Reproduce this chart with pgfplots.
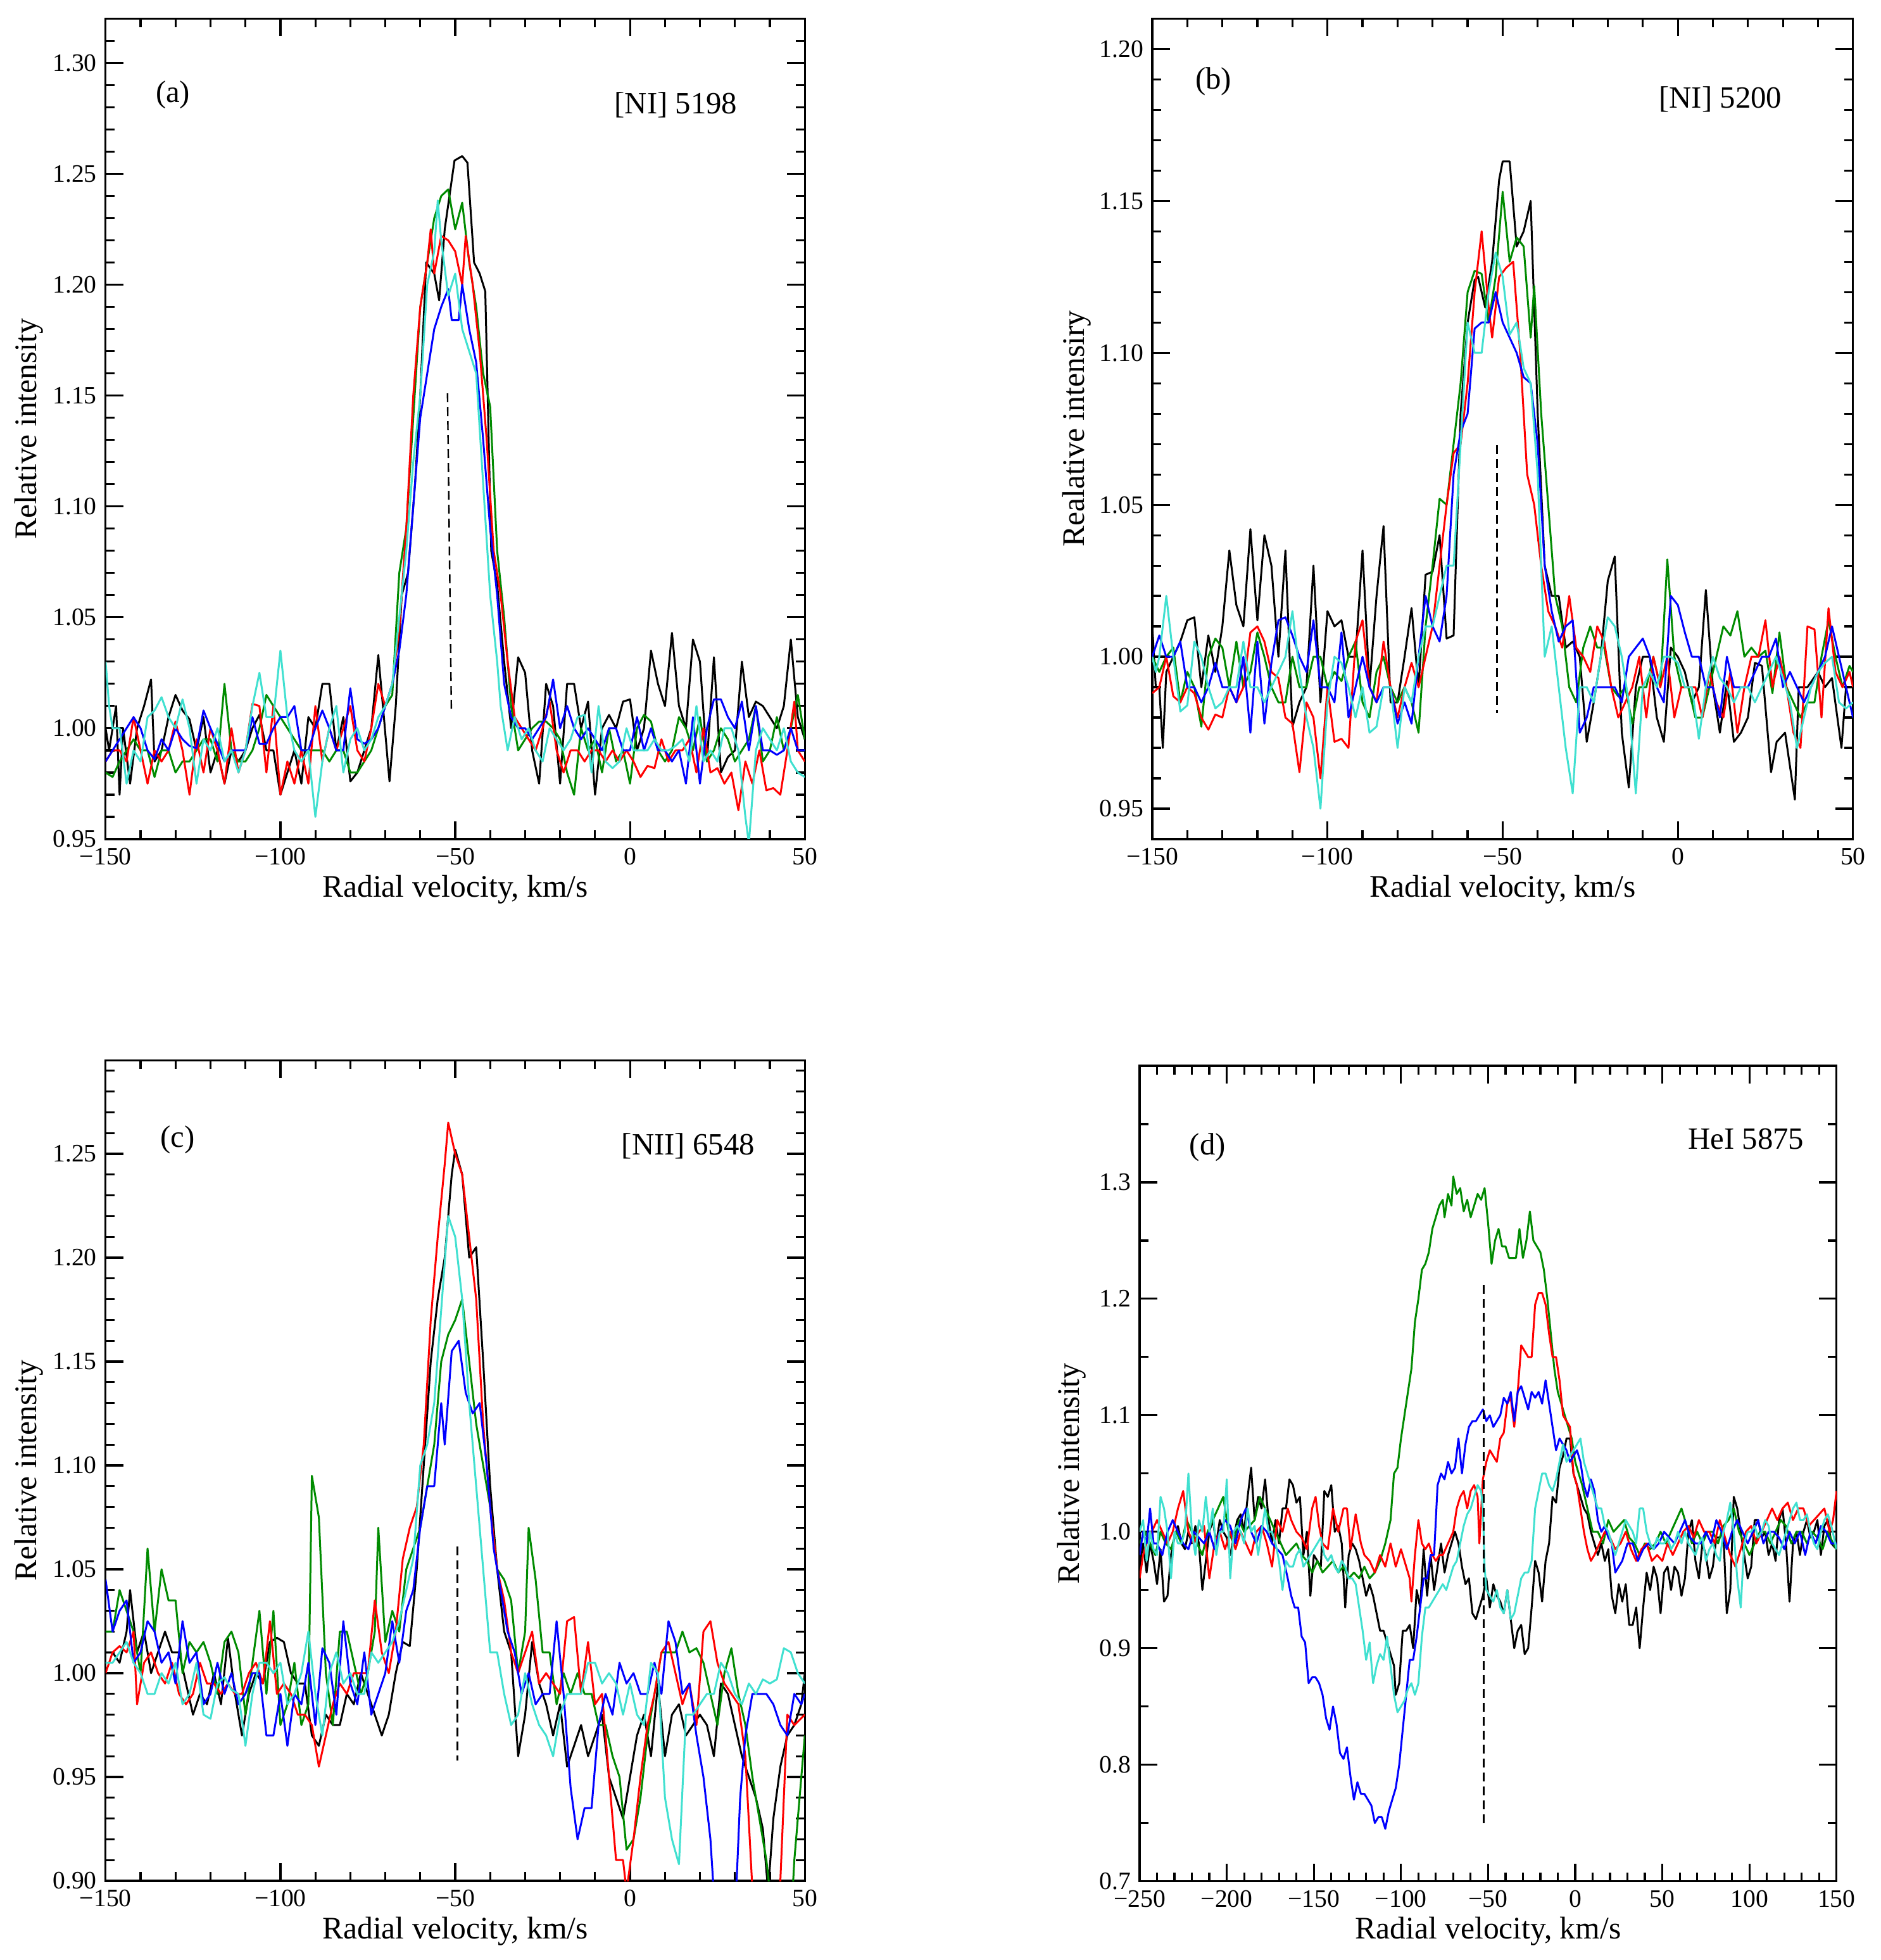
\documentclass[border=0pt]{standalone}
\usepackage{fontspec}
\setmainfont{Liberation Serif}
\usepackage{pgfplots}
\pgfplotsset{compat=1.18}
\definecolor{ggreen}{RGB}{0,139,0}
\definecolor{turq}{RGB}{64,224,208}
\tikzset{
 ann/.style={font=\fontsize{12.2}{14}\selectfont, inner sep=0pt},
 dsh/.style={black, line width=0.6pt, dash pattern=on 3.5pt off 2pt},
}
\pgfplotsset{
 panel/.style={
  scale only axis,
  axis line style={line width=0.8pt},
  tick align=inside, xtick pos=both, ytick pos=both,
  major tick length=7pt, minor tick length=3.5pt,
  every tick/.style={black, line width=0.8pt},
  tick label style={font=\fontsize{9.9}{12}\selectfont},
  label style={font=\fontsize{12.4}{14}\selectfont},
  xlabel={Radial velocity, km/s},
  xlabel style={at={(axis description cs:0.5,-0.0704)}, anchor=base, inner sep=0pt},
  ylabel style={anchor=south, inner sep=0pt},
  every axis plot/.append style={line width=0.75pt, line join=round},
  clip=true,
 },
 vxa/.style={xmin=-150, xmax=50, xtick={-150,-100,-50,0,50},
  xticklabels={−150,−100,−50,0,50}, minor xtick={-150,-140,...,50}},
}
\begin{document}
\begin{tikzpicture}
\useasboundingbox (0,0) rectangle (742.5pt,773.75pt);
% ---------------- (a)
\begin{axis}[panel, vxa, at={(41.7pt,442.5pt)}, anchor=south west, width=276.1pt, height=323.9pt,
 ymin=0.95, ymax=1.32, ytick={0.95,1,1.05,1.1,1.15,1.2,1.25,1.3},
 yticklabels={0.95,1.00,1.05,1.10,1.15,1.20,1.25,1.30}, minor ytick={0.95,0.96,...,1.325},
 ylabel={Relative intensity}, ylabel style={at={(axis description cs:-0.0887,0.5)}}]
\addplot[black] coordinates {(-150,1.00) (-149,0.99) (-147,1.01) (-146,0.97) (-145,1.00) (-143,0.975) (-141,1.00) (-139,1.01) (-137,1.022) (-136,0.985) (-134,0.99) (-132,1.005) (-130,1.015) (-128,1.008) (-126,1.004) (-124,0.99) (-122,1.005) (-120,0.98) (-118,0.99) (-116,0.975) (-114,0.99) (-112,0.985) (-110,0.99) (-108,1.00) (-106,1.006) (-104,0.99) (-102,0.99) (-100,0.97) (-98,0.98) (-96,0.99) (-94,0.975) (-92,1.005) (-90,1.00) (-88,1.02) (-86,1.02) (-84,0.99) (-82,1.005) (-80,0.976) (-78,0.98) (-76,0.99) (-74,1.00) (-72,1.033) (-70.4,1.005) (-68.8,0.976) (-67,1.01) (-65.3,1.06) (-63.5,1.07) (-61.5,1.11) (-60,1.15) (-58.3,1.21) (-56,1.205) (-54.6,1.193) (-53,1.225) (-50.2,1.256) (-48,1.258) (-46.5,1.255) (-44.6,1.21) (-43,1.205) (-41.4,1.197) (-39.7,1.08) (-38,1.065) (-36,1.03) (-34,1.00) (-32,1.032) (-30,1.025) (-28,0.99) (-26,0.975) (-24,1.02) (-22,1.01) (-20,0.975) (-18,1.02) (-16,1.02) (-14,1.00) (-12,1.012) (-10,0.97) (-8,1.00) (-6,1.006) (-4,1.00) (-2,1.012) (0,1.013) (2,0.99) (4,1.00) (6,1.035) (8,1.02) (10,1.01) (12,1.043) (14,1.01) (16,1.00) (18,1.04) (20,1.03) (22,0.985) (24,1.032) (26,0.98) (28,0.987) (30,0.99) (32,1.03) (34,1.005) (36,1.012) (38,1.01) (40,1.005) (42,1.00) (44,1.01) (46,1.04) (48,1.005) (50,0.995)};
\addplot[ggreen] coordinates {(-150,0.98) (-148,0.978) (-146,0.985) (-144,0.99) (-142,0.995) (-140,0.99) (-138,0.99) (-136,0.978) (-134,0.99) (-132,0.99) (-130,0.98) (-128,0.985) (-126,0.985) (-124,0.99) (-122,0.995) (-120,0.995) (-118,0.985) (-116,1.02) (-114,0.99) (-112,0.985) (-110,0.985) (-108,0.99) (-106,1.00) (-104,1.015) (-102,1.01) (-100,1.005) (-98,1.00) (-96,0.995) (-94,0.99) (-92,0.99) (-90,0.99) (-88,0.99) (-86,0.985) (-84,0.99) (-82,0.99) (-80,0.98) (-78,0.98) (-76,0.985) (-74,0.99) (-72,1.00) (-70,1.01) (-68,1.015) (-66,1.07) (-64,1.09) (-62,1.14) (-60,1.19) (-58,1.21) (-56,1.23) (-54,1.24) (-52,1.243) (-50,1.225) (-48,1.237) (-46,1.21) (-44,1.19) (-42,1.16) (-40,1.145) (-38,1.08) (-36,1.05) (-34,1.01) (-32,0.99) (-30,0.995) (-28,1.00) (-26,1.003) (-24,1.003) (-22,1.00) (-20,0.995) (-18,0.98) (-16,0.97) (-14,1.00) (-12,0.99) (-10,0.995) (-8,0.98) (-6,1.00) (-4,0.985) (-2,0.99) (0,0.975) (2,1.00) (4,1.006) (6,1.003) (8,0.99) (10,0.985) (12,0.99) (14,1.005) (16,1.00) (18,0.99) (20,1.005) (22,0.985) (24,0.99) (26,1.00) (28,0.995) (30,0.985) (32,0.99) (34,0.995) (36,1.01) (38,0.985) (40,0.99) (42,1.005) (44,0.99) (46,1.00) (48,1.015) (50,0.995)};
\addplot[red] coordinates {(-150,0.985) (-148,0.99) (-146,0.99) (-144,0.985) (-142,1.005) (-140,0.99) (-138,0.975) (-136,0.99) (-134,0.985) (-132,0.99) (-130,1.003) (-128,0.99) (-126,0.97) (-124,0.995) (-122,0.98) (-120,1.00) (-118,0.99) (-116,0.975) (-114,1.00) (-112,0.98) (-110,0.99) (-108,1.011) (-106,1.01) (-104,0.98) (-102,1.01) (-100,0.97) (-98,0.985) (-96,0.975) (-94,0.99) (-92,0.975) (-90,1.01) (-88,0.985) (-86,1.00) (-84,0.99) (-82,1.00) (-80,1.01) (-78,0.99) (-76,0.985) (-74,1.00) (-72,1.02) (-70,1.01) (-68,1.02) (-66,1.045) (-64,1.09) (-62,1.15) (-60,1.19) (-58,1.21) (-57,1.225) (-56,1.205) (-54,1.222) (-52,1.22) (-50,1.215) (-48,1.20) (-47,1.222) (-45,1.20) (-43,1.17) (-41,1.13) (-39,1.08) (-37,1.06) (-35,1.03) (-33,1.005) (-31,1.00) (-29,0.995) (-27,0.99) (-25,1.00) (-23,1.012) (-21,0.99) (-19,0.98) (-17,0.99) (-15,0.99) (-13,0.985) (-11,0.99) (-9,0.99) (-7,0.985) (-5,0.99) (-3,0.985) (-1,0.99) (1,0.985) (3,0.978) (5,0.983) (7,0.982) (9,0.995) (11,0.985) (13,0.99) (15,0.99) (17,0.995) (19,0.98) (21,1.00) (23,0.98) (25,0.982) (27,0.975) (29,0.98) (31,0.963) (33,0.985) (35,0.975) (37,0.99) (39,0.972) (41,0.973) (43,0.97) (45,0.99) (47,1.012) (48,0.99) (50,0.985)};
\addplot[blue] coordinates {(-150,0.985) (-148,0.99) (-146,0.995) (-144,1.00) (-142,1.005) (-140,1.00) (-138,0.99) (-136,0.986) (-134,0.995) (-132,0.99) (-130,1.00) (-128,0.995) (-126,0.992) (-124,0.991) (-122,1.008) (-120,1.00) (-118,0.993) (-116,0.985) (-114,0.99) (-112,0.99) (-110,0.99) (-108,1.005) (-106,0.993) (-104,0.993) (-102,1.00) (-100,1.005) (-98,1.005) (-96,1.01) (-94,0.99) (-92,0.99) (-90,1.00) (-88,1.008) (-86,1.00) (-84,0.99) (-82,0.99) (-80,1.018) (-78,0.995) (-76,0.993) (-74,0.995) (-72,1.00) (-70,1.01) (-68,1.02) (-66,1.035) (-64,1.06) (-62,1.10) (-60,1.14) (-58,1.16) (-56,1.18) (-54,1.19) (-52,1.198) (-51,1.184) (-49,1.184) (-48,1.20) (-46,1.18) (-44,1.165) (-42,1.13) (-40,1.09) (-38,1.06) (-36,1.02) (-34,1.005) (-32,1.00) (-30,1.00) (-28,0.995) (-26,1.00) (-24,1.005) (-22,1.022) (-20,1.00) (-18,1.01) (-16,1.00) (-14,0.995) (-12,1.00) (-10,0.995) (-8,0.99) (-6,1.00) (-4,1.00) (-2,0.99) (0,0.99) (2,1.005) (4,0.99) (6,1.00) (8,0.99) (10,0.99) (12,0.985) (14,0.99) (16,0.975) (18,1.005) (20,0.975) (22,1.00) (24,1.013) (26,1.013) (28,1.005) (30,1.00) (32,1.012) (34,0.99) (36,1.01) (38,0.99) (40,0.99) (42,0.988) (44,0.99) (46,1.00) (48,0.99) (50,0.99)};
\addplot[turq] coordinates {(-150,1.03) (-149,1.01) (-148,1.00) (-146,1.00) (-144,0.975) (-142,0.99) (-140,0.985) (-138,1.005) (-136,1.008) (-134,1.014) (-132,1.005) (-130,1.00) (-128,1.013) (-126,1.00) (-124,0.975) (-122,0.995) (-120,0.99) (-118,1.00) (-116,0.985) (-114,0.99) (-112,0.98) (-110,0.99) (-108,1.01) (-106,1.025) (-104,1.005) (-102,1.005) (-100,1.035) (-98,1.005) (-96,0.99) (-94,0.985) (-92,0.99) (-90,0.96) (-88,0.985) (-86,1.00) (-84,1.01) (-82,0.98) (-80,0.995) (-78,1.00) (-76,0.99) (-74,0.995) (-72,1.005) (-70,1.01) (-68,1.02) (-66,1.05) (-64,1.08) (-62,1.12) (-60,1.15) (-58,1.20) (-56,1.215) (-55,1.238) (-54,1.22) (-52,1.195) (-50,1.205) (-48,1.18) (-46,1.17) (-44,1.16) (-42,1.11) (-40,1.06) (-38,1.03) (-37,1.01) (-35,0.99) (-33,1.005) (-31,0.995) (-29,1.00) (-27,0.99) (-25,0.985) (-23,1.00) (-21,0.995) (-19,0.99) (-17,0.995) (-15,1.005) (-13,1.006) (-11,0.98) (-9,1.01) (-7,0.985) (-5,0.982) (-3,0.985) (-1,1.00) (1,0.99) (3,0.99) (5,0.99) (7,0.995) (9,0.99) (11,0.99) (13,0.992) (15,0.995) (17,0.985) (19,1.01) (21,0.985) (23,0.99) (25,0.985) (27,1.00) (29,1.00) (31,0.99) (33,0.96) (34,0.948) (36,0.99) (38,1.00) (40,0.995) (42,0.99) (44,1.00) (46,0.985) (48,0.98) (50,0.978)};
\addplot[dsh] coordinates {(-52.2,1.151) (-51.1,1.008)};
\node[ann, anchor=base west] at (axis description cs:0.071,0.898) {(a)};
\node[ann, anchor=base east] at (axis description cs:0.904,0.8845) {[NI] 5198};
\end{axis}
% ---------------- (b)
\begin{axis}[panel, vxa, at={(455pt,442.5pt)}, anchor=south west, width=276.7pt, height=323.9pt,
 ymin=0.94, ymax=1.21, ytick={0.95,1,1.05,1.1,1.15,1.2},
 yticklabels={0.95,1.00,1.05,1.10,1.15,1.20}, minor ytick={0.94,0.95,...,1.215},
 ylabel={Realative intensiry}, ylabel style={at={(axis description cs:-0.0867,0.5)}}]
\addplot[black] coordinates {(-150,1.01) (-149,0.99) (-148,0.99) (-147,0.97) (-146,0.995) (-144,1.00) (-142,1.005) (-140,1.012) (-138,1.013) (-136,0.99) (-134,1.007) (-132,0.995) (-130,1.01) (-128,1.035) (-126,1.017) (-124,1.01) (-122,1.042) (-120,1.012) (-118,1.04) (-116,1.03) (-114,1.00) (-112,1.035) (-110,0.977) (-108,0.985) (-106,0.99) (-104,1.03) (-102,0.985) (-100,1.015) (-98,1.01) (-96,1.012) (-94,1.00) (-92,1.00) (-90,1.035) (-88,0.99) (-86,1.02) (-84,1.043) (-82,0.985) (-80,0.985) (-78,1.00) (-76,1.016) (-74,0.99) (-72,1.027) (-70,1.028) (-68,1.04) (-66,1.006) (-64,1.007) (-62,1.08) (-60,1.11) (-58,1.124) (-57,1.125) (-55,1.115) (-53,1.13) (-51,1.157) (-50,1.163) (-48,1.163) (-46,1.135) (-44,1.14) (-42,1.15) (-40,1.08) (-38,1.03) (-36,1.02) (-34,1.02) (-32,1.003) (-30,1.005) (-28,1.00) (-26,0.972) (-24,0.985) (-22,1.00) (-20,1.025) (-18,1.033) (-16,0.975) (-14,0.957) (-12,0.99) (-10,1.00) (-8,1.00) (-6,0.98) (-4,0.972) (-2,1.003) (0,1.00) (2,0.995) (4,0.985) (6,0.99) (8,1.022) (10,0.99) (12,0.975) (14,0.992) (16,0.972) (18,0.975) (20,0.98) (22,0.998) (24,0.997) (26.6,0.962) (28.2,0.972) (30.6,0.975) (33.4,0.953) (34.5,0.99) (37,0.99) (40,0.995) (42,0.99) (44,0.993) (46.7,0.97) (48,0.99) (50,0.99)};
\addplot[ggreen] coordinates {(-150,1.00) (-148,0.995) (-146,1.00) (-144,1.003) (-142,0.985) (-140,0.995) (-138,0.99) (-136,0.977) (-134,1.00) (-132,1.006) (-130,1.003) (-128,0.99) (-126,1.005) (-124,0.99) (-122,0.995) (-120,1.008) (-118,1.00) (-116,0.99) (-114,0.985) (-112,0.985) (-110,1.00) (-108,0.99) (-106,0.99) (-104,1.00) (-102,1.00) (-100,0.99) (-98,0.995) (-96,0.992) (-94,1.00) (-92,1.005) (-90,0.985) (-88,0.98) (-86,0.995) (-84,1.00) (-82,0.99) (-80,0.985) (-78,0.99) (-76,0.985) (-74,0.975) (-72,1.01) (-70,1.03) (-68,1.052) (-66,1.05) (-64,1.07) (-62,1.09) (-60,1.12) (-58,1.127) (-56,1.126) (-54,1.11) (-52,1.125) (-50,1.153) (-48,1.13) (-46,1.138) (-44,1.135) (-42,1.105) (-41,1.122) (-39,1.08) (-37,1.05) (-35,1.02) (-33,1.01) (-31,0.99) (-29,0.985) (-27,1.003) (-25,1.01) (-23,1.003) (-21,1.003) (-19,0.99) (-17,0.987) (-15,0.99) (-13,0.978) (-11,0.99) (-9,0.99) (-7,1.00) (-5,0.99) (-3,1.032) (-1,1.00) (1,0.99) (3,0.99) (5,0.98) (7,0.98) (9,0.99) (11,1.00) (13,1.01) (15,1.007) (17,1.015) (19,1.00) (21,1.003) (23,1.00) (25,1.002) (27,0.988) (29,1.008) (31,0.99) (33,0.985) (35,0.98) (37,0.985) (39,0.985) (41,1.00) (43,1.012) (45,1.00) (47,0.99) (49,0.997) (50,0.995)};
\addplot[red] coordinates {(-150,0.988) (-148,0.99) (-146,1.00) (-144,0.987) (-142,0.985) (-140,0.99) (-138,0.988) (-136,0.98) (-134,0.976) (-132,0.981) (-130,0.98) (-128,0.99) (-126,0.985) (-124,0.99) (-122,1.008) (-120,1.01) (-118,1.005) (-116,0.995) (-114,0.993) (-112,0.98) (-110,0.978) (-108,0.962) (-106,0.985) (-104,0.98) (-102,0.96) (-100,0.99) (-98,0.972) (-96,0.973) (-94,0.97) (-92,1.005) (-90,1.012) (-88,0.99) (-86,0.985) (-84,1.005) (-82,0.99) (-80,0.98) (-78,0.99) (-76,0.998) (-74,0.99) (-72,1.00) (-70,1.01) (-68,1.03) (-66,1.05) (-64,1.067) (-62,1.07) (-60,1.09) (-58,1.12) (-56,1.14) (-54,1.115) (-53,1.105) (-51,1.125) (-49,1.128) (-47,1.13) (-45,1.10) (-43,1.06) (-41,1.05) (-39,1.03) (-37,1.015) (-35,1.01) (-33,1.003) (-31,1.02) (-29,1.003) (-27,1.00) (-25,0.995) (-23,1.01) (-21,1.005) (-19,0.99) (-17,0.98) (-15,0.985) (-13,0.99) (-11,1.00) (-9,0.98) (-7,1.00) (-5,0.99) (-3,1.00) (-1,0.98) (1,0.99) (3,0.99) (5,0.99) (7,0.98) (9,0.995) (11,0.985) (13,0.98) (15,0.995) (17,0.975) (19,0.99) (21,1.00) (23,1.00) (25,1.012) (27,0.99) (29,1.00) (31,0.99) (33,0.975) (35,0.97) (37,1.01) (39,1.009) (41,0.98) (43,1.016) (45,0.995) (47,0.99) (49,0.995) (50,0.99)};
\addplot[blue] coordinates {(-150,1.00) (-148,1.007) (-146,1.00) (-144,1.00) (-142,1.005) (-140,0.99) (-138,0.99) (-136,0.985) (-134,0.99) (-132,0.998) (-130,0.99) (-128,0.99) (-126,0.985) (-124,1.00) (-122,0.975) (-120,1.005) (-118,0.978) (-116,0.998) (-114,1.012) (-112,1.013) (-110,1.007) (-108,1.00) (-106,0.995) (-104,1.012) (-102,0.99) (-100,0.99) (-98,0.985) (-96,1.008) (-94,0.98) (-92,0.99) (-90,1.00) (-88,0.99) (-86,0.985) (-84,0.99) (-82,0.99) (-80,0.978) (-78,0.985) (-76,0.978) (-74,1.00) (-72,1.02) (-70,1.01) (-68,1.005) (-66,1.02) (-64,1.06) (-62,1.074) (-60,1.08) (-58,1.108) (-56,1.11) (-54,1.11) (-52,1.12) (-50,1.11) (-48,1.105) (-46,1.10) (-44,1.092) (-42,1.09) (-40,1.07) (-38,1.03) (-36,1.015) (-34,1.005) (-32,1.01) (-30,1.012) (-28,0.975) (-26,0.98) (-24,0.99) (-22,0.99) (-20,0.99) (-18,0.99) (-16,0.985) (-14,1.00) (-12,1.003) (-10,1.006) (-8,1.00) (-6,0.99) (-4,0.985) (-2,1.02) (0,1.017) (2,1.008) (4,1.00) (6,1.00) (8,0.99) (10,0.99) (12,0.98) (14,1.00) (16,0.99) (18,0.99) (20,0.99) (22,0.995) (24,1.00) (26,1.00) (28,1.006) (30,0.99) (32,0.995) (34,0.99) (36,0.985) (38,0.99) (40,0.995) (42,1.00) (44,1.01) (46,1.00) (48,0.99) (50,0.98)};
\addplot[turq] coordinates {(-150,1.00) (-149,0.995) (-148,1.00) (-146,1.02) (-144,1.00) (-142,0.982) (-140,0.984) (-138,1.005) (-136,1.00) (-134,0.99) (-132,0.983) (-130,0.985) (-128,0.99) (-126,0.99) (-124,1.005) (-122,0.99) (-120,0.99) (-118,0.985) (-116,0.99) (-114,0.995) (-112,1.00) (-110,1.015) (-108,0.995) (-106,0.98) (-104,0.97) (-102,0.95) (-100,0.985) (-98,1.00) (-96,0.998) (-94,0.99) (-92,0.98) (-90,0.99) (-88,0.975) (-86,0.977) (-84,0.99) (-82,0.99) (-80,0.97) (-78,0.99) (-76,0.985) (-74,1.00) (-72,1.01) (-70,1.01) (-68,1.02) (-66,1.03) (-64,1.03) (-62,1.07) (-60,1.11) (-58,1.10) (-56,1.10) (-54,1.12) (-52,1.133) (-50,1.125) (-48,1.106) (-46,1.11) (-44,1.095) (-42,1.09) (-40,1.06) (-38,1.00) (-36,1.01) (-34,0.99) (-32,0.97) (-30,0.955) (-28,0.99) (-26,0.99) (-24,0.985) (-22,1.00) (-20,1.013) (-18,1.01) (-16,1.00) (-14,0.985) (-12,0.955) (-10,0.99) (-8,0.995) (-6,0.99) (-4,1.00) (-2,1.00) (0,0.998) (2,0.99) (4,0.99) (6,0.973) (8,0.99) (10,1.00) (12,0.993) (14,0.99) (16,0.985) (18,0.99) (20,0.99) (22,0.985) (24,0.99) (26,0.995) (28,1.00) (30,0.993) (32,0.985) (34,0.97) (36,0.98) (38,0.99) (40,0.995) (42,0.998) (44,1.00) (46,0.985) (48,0.983) (50,0.985)};
\addplot[dsh] coordinates {(-51.6,1.0696) (-51.6,0.9815)};
\node[ann, anchor=base west] at (axis description cs:0.061,0.914) {(b)};
\node[ann, anchor=base east] at (axis description cs:0.899,0.891) {[NI] 5200};
\end{axis}
% ---------------- (c)
\begin{axis}[panel, vxa, at={(41.7pt,31.25pt)}, anchor=south west, width=276.1pt, height=323.9pt,
 ymin=0.9, ymax=1.295, ytick={0.9,0.95,1,1.05,1.1,1.15,1.2,1.25},
 yticklabels={0.90,0.95,1.00,1.05,1.10,1.15,1.20,1.25}, minor ytick={0.9,0.91,...,1.295},
 ylabel={Relative intensity}, ylabel style={at={(axis description cs:-0.0887,0.5)}}]
\addplot[black] coordinates {(-150,1.01) (-148,1.01) (-146,1.005) (-144,1.02) (-143,1.04) (-141,1.01) (-139,1.02) (-137,1.00) (-135,1.01) (-133,1.02) (-131,1.01) (-129,1.01) (-127,0.995) (-125,0.98) (-123,0.99) (-121,0.985) (-119,1.00) (-117,0.985) (-115,1.017) (-113,0.99) (-111,0.97) (-109,0.99) (-107,1.00) (-105,0.995) (-103,1.015) (-101,1.017) (-99,1.015) (-97,1.00) (-95,0.995) (-93,0.995) (-91,0.97) (-89,0.965) (-87,0.98) (-85,0.975) (-83,0.975) (-81,0.99) (-79,0.985) (-77,1.00) (-75,0.99) (-73,0.98) (-71,0.97) (-69,0.98) (-67,1.00) (-65,1.015) (-63,1.013) (-61,1.05) (-59,1.10) (-57,1.15) (-55,1.18) (-53,1.20) (-51,1.24) (-50,1.252) (-48,1.24) (-46,1.20) (-44,1.205) (-42,1.15) (-40,1.09) (-38,1.05) (-36,1.02) (-34,1.01) (-32,0.96) (-30,0.98) (-28,1.015) (-26,0.995) (-24,0.985) (-22,0.97) (-20,0.985) (-18,0.955) (-16,0.965) (-14,0.975) (-12,0.96) (-10,0.97) (-8,0.98) (-6,0.95) (-4,0.94) (-2,0.93) (0,0.95) (2,0.97) (4,0.98) (6,0.96) (8,0.995) (10,0.96) (12,0.98) (14,0.985) (16,0.97) (18,0.975) (20,0.98) (22,0.975) (24,0.96) (26,0.995) (28,0.99) (30,0.975) (32,0.96) (34,0.95) (36,0.94) (38,0.925) (39.5,0.895) (41,0.93) (43,0.955) (45,0.97) (47,0.975) (49,0.985) (50,1.00)};
\addplot[ggreen] coordinates {(-150,1.02) (-148,1.02) (-146,1.04) (-144,1.03) (-142,1.02) (-140,1.00) (-138,1.06) (-136,1.02) (-134,1.05) (-132,1.035) (-130,1.035) (-128,1.00) (-126,1.015) (-124,1.01) (-122,1.015) (-120,1.005) (-118,0.99) (-116,1.015) (-114,1.02) (-112,1.01) (-110,0.98) (-108,1.005) (-106,1.03) (-104,0.99) (-102,1.03) (-100,0.975) (-98,0.985) (-96,1.005) (-94,0.975) (-92,0.985) (-91,1.095) (-89,1.075) (-87,1.00) (-85,0.975) (-83,1.02) (-81,1.02) (-79,1.005) (-77,0.99) (-75,1.00) (-73,1.02) (-72,1.07) (-70,1.015) (-68,1.03) (-66,1.02) (-64,1.05) (-62,1.06) (-60,1.07) (-58,1.09) (-56,1.11) (-54,1.15) (-52,1.163) (-50,1.17) (-48,1.18) (-46,1.15) (-44,1.12) (-42,1.10) (-40,1.08) (-38,1.05) (-36,1.045) (-34,1.035) (-32,1.00) (-30,1.02) (-29,1.07) (-27,1.045) (-25,1.01) (-23,1.01) (-21,0.985) (-19,1.00) (-17,0.99) (-15,1.00) (-13,0.99) (-11,0.99) (-9,0.975) (-7,0.975) (-5,0.96) (-3,0.95) (-1,0.915) (1,0.92) (3,0.94) (5,0.97) (7,0.99) (9,1.01) (11,1.01) (13,1.01) (15,1.02) (17,1.01) (19,1.012) (21,1.005) (23,0.99) (25,0.975) (27,1.00) (29,1.012) (31,0.99) (33,0.975) (35,0.95) (37,0.93) (39,0.91) (41,0.88) (46,0.88) (47,0.91) (49,0.95) (50,0.97)};
\addplot[red] coordinates {(-150,1.00) (-148,1.01) (-146,1.013) (-144,1.01) (-142,1.02) (-141,0.985) (-139,1.005) (-137,1.01) (-135,1.00) (-133,0.995) (-131,1.005) (-129,0.99) (-127,0.985) (-125,0.99) (-123,1.005) (-121,0.995) (-119,0.995) (-117,0.99) (-115,0.995) (-113,0.99) (-111,0.99) (-109,1.00) (-107,1.005) (-105,0.995) (-103,1.025) (-101,0.99) (-99,0.995) (-97,0.99) (-95,0.98) (-93,0.98) (-91,0.975) (-89,0.955) (-87,0.97) (-85,0.985) (-83,0.995) (-81,0.99) (-79,1.00) (-77,1.00) (-75,1.00) (-73,1.035) (-71,1.01) (-69,1.00) (-67,1.02) (-65,1.055) (-63,1.07) (-61,1.08) (-59,1.11) (-57,1.17) (-55,1.21) (-53,1.245) (-52,1.265) (-50,1.25) (-48,1.24) (-46,1.21) (-44,1.18) (-42,1.12) (-40,1.08) (-38,1.05) (-36,1.035) (-34,1.01) (-32,1.00) (-30,1.01) (-28,1.02) (-26,0.995) (-24,1.00) (-22,0.995) (-20,0.99) (-18,1.025) (-16,1.027) (-14,0.99) (-12,1.015) (-10,0.985) (-8,0.99) (-6,0.95) (-4,0.91) (-2,0.91) (-1,0.895) (1,0.92) (3,0.95) (5,0.975) (7,0.99) (9,1.01) (11,1.015) (13,1.00) (15,0.985) (17,0.995) (19,0.975) (21,1.02) (23,1.025) (25,1.005) (27,0.995) (29,0.99) (31,0.985) (33,0.96) (35.5,0.88) (42.5,0.88) (43.5,0.92) (45,0.98) (47,0.975) (50,0.98)};
\addplot[blue] coordinates {(-150,1.045) (-148,1.02) (-146,1.03) (-144,1.035) (-142,1.005) (-140,1.01) (-138,1.025) (-136,1.02) (-134,1.005) (-132,1.01) (-130,0.995) (-128,1.025) (-126,1.005) (-124,1.01) (-122,0.985) (-120,0.99) (-118,1.005) (-116,0.99) (-114,1.00) (-112,0.985) (-110,0.99) (-108,1.00) (-106,1.00) (-104,0.97) (-102,0.97) (-100,0.99) (-98,0.965) (-96,0.99) (-94,0.985) (-92,1.005) (-90,0.975) (-88,1.012) (-86,1.005) (-84,0.98) (-82,1.025) (-80,0.995) (-78,0.985) (-76,1.01) (-74,0.98) (-72,0.99) (-70,1.00) (-68,1.025) (-66,1.005) (-64,1.03) (-62,1.04) (-60,1.07) (-58,1.09) (-56,1.09) (-54,1.13) (-53,1.11) (-51,1.155) (-49,1.16) (-47,1.135) (-45,1.125) (-43,1.13) (-41,1.10) (-39,1.06) (-37,1.04) (-35,1.02) (-33,1.01) (-31,0.99) (-29,1.00) (-27,0.985) (-25,0.99) (-23,0.99) (-21,1.025) (-19,0.99) (-17,0.945) (-15,0.92) (-13,0.935) (-11,0.935) (-9,0.975) (-7,0.99) (-5,0.98) (-3,1.005) (-1,0.995) (1,1.00) (3,0.99) (5,0.99) (7,1.005) (9,0.99) (11,1.025) (13,1.015) (15,0.99) (17,0.995) (19,0.97) (21,0.95) (23,0.92) (24.5,0.88) (30,0.88) (31.5,0.94) (33,0.97) (35,0.99) (37,0.99) (39,0.99) (41,0.985) (43,0.975) (45,0.97) (47,0.99) (49,0.985) (50,0.99)};
\addplot[turq] coordinates {(-150,1.005) (-148,1.005) (-146,1.01) (-144,1.015) (-142,1.005) (-140,1.00) (-138,0.99) (-136,0.99) (-134,1.00) (-132,0.995) (-130,1.005) (-128,0.985) (-126,0.99) (-124,1.005) (-122,0.98) (-120,0.978) (-118,0.995) (-116,0.998) (-114,0.992) (-112,0.99) (-110,0.965) (-108,0.99) (-106,1.005) (-104,1.005) (-102,1.00) (-100,1.005) (-98,0.985) (-96,0.99) (-94,1.00) (-92,1.02) (-90,0.99) (-88,0.97) (-86,1.00) (-84,1.01) (-82,0.995) (-80,1.00) (-78,0.99) (-76,0.99) (-74,1.01) (-72,1.005) (-70,1.01) (-68,1.015) (-66,1.025) (-64,1.04) (-62,1.055) (-60,1.10) (-58,1.11) (-56,1.13) (-54,1.175) (-52,1.22) (-50,1.21) (-48,1.18) (-46,1.13) (-44,1.09) (-42,1.05) (-40,1.01) (-38,1.01) (-36,0.99) (-34,0.975) (-32,0.98) (-30,1.00) (-28,0.985) (-26,0.975) (-24,0.97) (-22,0.96) (-20,0.98) (-18,0.99) (-16,0.99) (-14,0.99) (-12,1.005) (-10,1.005) (-8,0.995) (-6,1.00) (-4,0.995) (-2,0.98) (0,0.995) (2,0.98) (4,0.975) (6,1.005) (8,1.00) (10,0.94) (12,0.92) (14,0.908) (16,0.98) (18,0.98) (20,0.985) (22,0.99) (24,0.99) (26,1.005) (28,1.00) (30,0.99) (32,0.985) (34,0.995) (36,0.99) (38,0.997) (40,0.995) (42,0.997) (44,1.012) (46,1.01) (48,1.00) (50,0.995)};
\addplot[dsh] coordinates {(-49.4,1.061) (-49.4,0.958)};
\node[ann, anchor=base west] at (axis description cs:0.078,0.894) {(c)};
\node[ann, anchor=base east] at (axis description cs:0.929,0.885) {[NII] 6548};
\end{axis}
% ---------------- (d)
\begin{axis}[panel, at={(450pt,31.1pt)}, anchor=south west, width=275.2pt, height=321.9pt,
 xmin=-250, xmax=150, xtick={-250,-200,...,150},
 xticklabels={−250,−200,−150,−100,−50,0,50,100,150}, minor xtick={-250,-240,...,150},
 ymin=0.7, ymax=1.4, ytick={0.7,0.8,0.9,1.0,1.1,1.2,1.3},
 yticklabels={0.7,0.8,0.9,1.0,1.1,1.2,1.3}, minor ytick={0.7,0.75,...,1.41},
 ylabel={Relative intensity}, ylabel style={at={(axis description cs:-0.0763,0.5)}}]
\addplot[black] coordinates {(-250,0.97) (-248,0.99) (-246,0.965) (-244,0.99) (-242,0.975) (-240,0.955) (-238,0.985) (-236,0.94) (-234,0.945) (-232,0.98) (-230,0.995) (-228,1.005) (-226,0.99) (-224,0.985) (-222,1.00) (-220,0.99) (-218,1.005) (-216,0.99) (-214,0.95) (-212,0.975) (-210,1.00) (-208,1.01) (-206,0.99) (-204,1.01) (-202,1.00) (-200,0.995) (-198,0.98) (-196,0.995) (-194,1.01) (-192,1.015) (-190,1.00) (-188,1.03) (-186,1.055) (-184,1.01) (-182,1.03) (-180,1.02) (-178,1.045) (-176,1.01) (-174,0.99) (-172,1.01) (-170,0.99) (-168,1.02) (-166,1.02) (-164,1.045) (-162,1.04) (-160,1.025) (-158,1.03) (-156,0.98) (-154,1.00) (-152,0.945) (-150,0.98) (-148,0.975) (-146,0.97) (-144,1.035) (-142,1.03) (-140,1.04) (-138,1.00) (-136,1.005) (-134,0.99) (-132,0.935) (-130,0.98) (-128,0.99) (-126,0.985) (-124,0.975) (-122,0.96) (-120,0.945) (-118,0.955) (-116,0.945) (-114,0.93) (-112,0.915) (-110,0.915) (-108,0.905) (-106,0.895) (-104,0.885) (-103,0.86) (-101,0.87) (-99,0.915) (-97,0.915) (-95,0.92) (-93,0.90) (-91,0.95) (-89,0.935) (-87,0.985) (-85,0.945) (-83,0.98) (-81,0.95) (-79,0.97) (-77,0.99) (-75,0.965) (-73,0.98) (-71,0.99) (-69,1.00) (-67,0.99) (-65,0.97) (-63,0.955) (-61,0.96) (-59,0.93) (-57,0.925) (-55,0.935) (-53,0.945) (-51,0.96) (-49,0.935) (-47,0.955) (-45,0.945) (-43,0.94) (-41,0.93) (-39,0.95) (-37,0.925) (-35,0.90) (-33,0.915) (-31,0.92) (-29,0.895) (-27,0.90) (-25,0.935) (-23,0.975) (-21,0.965) (-19,0.94) (-17,0.975) (-15,0.99) (-13,1.03) (-11,1.025) (-9,1.055) (-7,1.065) (-5,1.08) (-3,1.08) (-1,1.05) (1,1.04) (3,1.03) (5,1.02) (7,1.015) (9,1.00) (11,0.99) (13,0.98) (15,0.99) (17,0.975) (19,0.985) (21,0.945) (23,0.93) (25,0.955) (27,0.94) (29,0.955) (31,0.92) (33,0.92) (35,0.935) (37,0.90) (39,0.935) (41,0.965) (43,0.95) (45,0.97) (47,0.96) (49,0.93) (51,0.965) (53,0.97) (55,0.95) (57,0.97) (59,0.965) (61,0.945) (63,0.96) (65,1.00) (67,1.01) (69,0.975) (71,0.96) (73,0.99) (75,0.98) (77,0.96) (79,0.97) (81,0.995) (83,0.995) (85,1.00) (87,0.93) (89,0.95) (91,1.03) (93,1.02) (95,1.00) (97,0.98) (99,0.96) (101,0.97) (103,1.01) (105,1.01) (107,0.995) (109,1.00) (111,0.98) (113,0.99) (115,0.975) (117,1.01) (119,1.02) (121,0.99) (123,0.94) (125,0.99) (127,1.00) (129,0.98) (131,1.00) (133,1.01) (135,0.995) (137,1.00) (139,1.01) (141,0.98) (143,1.005) (145,1.01) (147,0.99) (150,0.985)};
\addplot[ggreen] coordinates {(-250,0.99) (-247,1.00) (-244,0.99) (-241,0.98) (-238,1.00) (-235,0.99) (-232,0.985) (-229,1.00) (-226,0.99) (-223,1.01) (-220,1.00) (-217,0.99) (-214,0.98) (-211,1.00) (-208,1.01) (-205,1.02) (-202,1.03) (-199,1.00) (-196,0.99) (-193,1.01) (-190,1.00) (-187,1.005) (-184,1.01) (-181,1.03) (-178,1.02) (-175,1.01) (-172,1.00) (-169,0.99) (-166,0.98) (-163,0.985) (-160,0.99) (-157,0.98) (-154,0.975) (-151,0.965) (-148,0.975) (-145,0.965) (-142,0.97) (-139,0.975) (-136,0.965) (-133,0.97) (-130,0.96) (-127,0.965) (-124,0.96) (-121,0.97) (-118,0.96) (-115,0.965) (-112,0.975) (-109,0.99) (-106,1.01) (-104,1.05) (-102,1.055) (-100,1.08) (-98,1.10) (-96,1.12) (-94,1.14) (-92,1.18) (-90,1.20) (-88,1.225) (-86,1.23) (-84,1.24) (-82,1.26) (-80,1.27) (-78,1.28) (-76,1.285) (-75,1.27) (-73,1.29) (-71,1.28) (-70,1.305) (-68,1.29) (-66,1.295) (-64,1.275) (-62,1.285) (-60,1.27) (-58,1.28) (-56,1.29) (-54,1.285) (-52,1.295) (-50,1.265) (-48,1.23) (-46,1.25) (-44,1.26) (-42,1.245) (-40,1.245) (-38,1.235) (-36,1.235) (-34,1.235) (-32,1.26) (-30,1.235) (-28,1.25) (-26,1.275) (-24,1.25) (-22,1.245) (-20,1.24) (-18,1.225) (-16,1.20) (-14,1.17) (-12,1.14) (-10,1.12) (-8,1.11) (-6,1.10) (-4,1.09) (-2,1.08) (0,1.06) (2,1.05) (4,1.04) (7,1.02) (10,1.00) (13,1.00) (16,0.99) (19,1.01) (22,1.00) (25,1.005) (28,1.01) (31,0.995) (34,0.99) (37,0.98) (40,0.99) (43,0.985) (46,0.99) (49,1.00) (52,0.99) (55,1.00) (58,1.01) (61,1.02) (64,1.005) (67,0.99) (70,1.00) (73,0.99) (76,1.00) (79,1.00) (82,0.99) (85,1.005) (88,1.01) (91,1.02) (94,1.00) (97,0.99) (100,0.98) (103,0.99) (106,1.00) (109,1.00) (112,0.99) (115,1.00) (118,1.01) (121,1.005) (124,0.99) (127,1.00) (130,1.00) (133,0.99) (136,1.00) (139,0.995) (142,0.985) (145,1.00) (148,0.99) (150,0.985)};
\addplot[red] coordinates {(-250,0.96) (-248,0.98) (-246,0.99) (-243,1.00) (-240,1.01) (-237,1.00) (-234,0.99) (-231,1.00) (-228,1.02) (-225,1.035) (-222,1.00) (-219,0.99) (-216,1.00) (-213,1.005) (-210,0.96) (-207,0.99) (-204,1.00) (-201,0.985) (-198,1.00) (-195,0.985) (-192,1.00) (-189,0.99) (-186,0.98) (-183,1.00) (-180,1.005) (-177,0.99) (-174,0.97) (-171,1.01) (-168,1.00) (-165,1.02) (-163,1.01) (-160,1.00) (-157,0.995) (-154,0.985) (-151,1.02) (-149,1.03) (-147,1.005) (-145,0.99) (-142,0.985) (-139,1.02) (-136,1.00) (-133,1.02) (-131,1.02) (-129,0.985) (-126,1.015) (-123,0.99) (-121,0.98) (-118,0.975) (-115,0.965) (-112,0.98) (-109,0.97) (-106,0.99) (-103,0.97) (-100,0.985) (-97,0.97) (-95,0.96) (-94,0.94) (-92,0.98) (-90,1.01) (-88,0.99) (-86,0.985) (-84,0.99) (-82,0.98) (-80,0.975) (-78,0.98) (-76,0.98) (-73,0.99) (-70,1.00) (-68,1.02) (-66,1.03) (-64,1.035) (-62,1.02) (-60,1.035) (-58,1.04) (-56,1.03) (-55,0.99) (-53,1.045) (-51,1.06) (-49,1.07) (-47,1.065) (-45,1.06) (-43,1.08) (-41,1.085) (-39,1.11) (-37,1.115) (-35,1.09) (-33,1.12) (-31,1.16) (-29,1.155) (-27,1.15) (-25,1.15) (-23,1.195) (-21,1.205) (-19,1.205) (-17,1.195) (-15,1.17) (-13,1.15) (-11,1.15) (-9,1.13) (-7,1.10) (-5,1.095) (-3,1.09) (-1,1.05) (1,1.04) (3,1.02) (5,1.00) (7,0.985) (9,0.975) (11,0.98) (14,0.99) (17,1.00) (20,0.995) (23,0.985) (26,0.99) (29,1.00) (32,0.985) (35,0.975) (38,0.985) (41,0.99) (44,0.975) (47,0.98) (50,0.975) (53,0.99) (56,0.98) (59,0.99) (62,1.00) (65,1.005) (68,0.995) (71,1.01) (74,1.00) (77,1.00) (80,0.99) (83,1.01) (86,0.995) (89,0.98) (92,0.97) (95,0.985) (98,1.00) (101,1.005) (104,0.99) (107,1.00) (110,1.01) (113,1.02) (116,1.01) (119,1.02) (122,1.025) (125,1.01) (128,1.02) (131,1.02) (134,1.005) (137,1.01) (140,1.015) (143,1.02) (146,1.00) (148,1.01) (150,1.035)};
\addplot[blue] coordinates {(-250,0.98) (-248,1.00) (-246,0.99) (-244,1.02) (-242,0.99) (-240,0.99) (-237,0.98) (-234,1.00) (-231,1.01) (-228,1.00) (-225,0.99) (-222,0.985) (-219,1.00) (-216,0.995) (-213,0.99) (-210,1.00) (-207,0.985) (-204,1.00) (-201,1.01) (-198,1.005) (-195,0.99) (-192,1.01) (-189,1.02) (-186,1.00) (-183,0.99) (-180,1.005) (-177,1.00) (-174,0.99) (-171,0.985) (-168,0.98) (-165,0.96) (-163,0.945) (-161,0.935) (-159,0.935) (-157,0.91) (-155,0.905) (-153,0.87) (-151,0.875) (-149,0.875) (-147,0.87) (-145,0.86) (-143,0.84) (-141,0.83) (-139,0.85) (-137,0.835) (-135,0.81) (-133,0.805) (-131,0.815) (-129,0.79) (-127,0.77) (-125,0.785) (-123,0.775) (-121,0.775) (-119,0.77) (-117,0.765) (-115,0.75) (-113,0.755) (-111,0.755) (-109,0.745) (-107,0.76) (-105,0.77) (-103,0.78) (-101,0.80) (-99,0.83) (-97,0.86) (-95,0.89) (-93,0.89) (-91,0.91) (-89,0.935) (-87,0.96) (-85,0.96) (-83,0.98) (-81,0.98) (-79,1.04) (-77,1.05) (-75,1.045) (-73,1.06) (-71,1.05) (-69,1.055) (-67,1.08) (-65,1.05) (-63,1.075) (-61,1.09) (-59,1.095) (-57,1.095) (-55,1.10) (-53,1.105) (-51,1.095) (-49,1.10) (-47,1.09) (-45,1.095) (-43,1.10) (-41,1.115) (-39,1.11) (-37,1.12) (-35,1.095) (-33,1.12) (-31,1.125) (-29,1.115) (-27,1.105) (-25,1.12) (-23,1.115) (-21,1.12) (-19,1.11) (-17,1.13) (-15,1.11) (-13,1.09) (-11,1.07) (-9,1.08) (-7,1.075) (-5,1.07) (-3,1.06) (-1,1.065) (1,1.07) (3,1.06) (5,1.04) (7,1.03) (9,1.045) (11,1.035) (13,1.01) (15,1.00) (17,1.005) (19,0.995) (21,0.99) (23,0.965) (25,0.97) (27,0.975) (30,0.99) (33,0.99) (36,0.975) (39,0.985) (42,0.99) (45,0.985) (48,0.99) (51,1.00) (54,0.995) (57,0.99) (60,1.00) (63,1.01) (66,0.995) (69,0.99) (72,0.99) (75,1.00) (78,0.99) (81,1.01) (84,1.00) (87,0.985) (90,1.00) (93,1.01) (96,1.00) (99,0.99) (102,1.00) (105,1.01) (108,0.99) (111,1.00) (114,1.00) (117,0.995) (120,0.985) (123,1.00) (126,0.99) (129,1.00) (132,0.98) (135,1.00) (138,0.99) (141,1.005) (144,1.00) (147,0.99) (150,0.99)};
\addplot[turq] coordinates {(-250,1.00) (-248,1.01) (-246,0.975) (-244,1.00) (-242,0.985) (-240,0.98) (-238,1.03) (-236,1.02) (-234,1.00) (-232,0.96) (-230,1.00) (-228,0.99) (-226,0.99) (-224,1.00) (-222,1.05) (-220,1.00) (-218,0.98) (-216,1.01) (-214,1.00) (-212,1.03) (-210,1.00) (-208,1.02) (-206,0.98) (-204,1.00) (-202,1.00) (-200,1.045) (-198,0.96) (-196,1.00) (-194,1.005) (-192,1.00) (-190,0.99) (-188,1.02) (-186,1.00) (-184,1.005) (-182,0.98) (-180,1.00) (-178,1.02) (-176,1.00) (-174,1.00) (-172,0.99) (-170,0.975) (-168,0.95) (-166,0.975) (-164,0.97) (-162,0.97) (-160,0.98) (-158,0.985) (-156,0.97) (-154,0.975) (-152,0.98) (-150,0.985) (-148,0.99) (-146,0.995) (-144,0.98) (-142,0.975) (-140,0.98) (-138,0.97) (-136,0.965) (-134,0.975) (-132,0.97) (-130,0.96) (-128,0.96) (-126,0.955) (-124,0.935) (-122,0.915) (-120,0.89) (-118,0.905) (-116,0.87) (-114,0.885) (-112,0.895) (-110,0.89) (-108,0.91) (-106,0.885) (-104,0.86) (-102,0.845) (-100,0.85) (-98,0.855) (-96,0.865) (-94,0.87) (-92,0.86) (-90,0.87) (-88,0.91) (-86,0.935) (-84,0.935) (-82,0.94) (-80,0.945) (-78,0.95) (-76,0.955) (-74,0.95) (-72,0.96) (-70,0.97) (-68,0.975) (-66,0.99) (-64,1.005) (-62,1.015) (-60,1.02) (-58,1.03) (-56,1.04) (-54,1.035) (-53,1.02) (-52,0.97) (-51,0.95) (-49,0.945) (-47,0.94) (-45,0.95) (-43,0.935) (-41,0.93) (-39,0.95) (-37,0.925) (-35,0.93) (-33,0.945) (-31,0.96) (-29,0.965) (-27,0.965) (-25,0.975) (-23,1.02) (-21,1.035) (-19,1.05) (-17,1.05) (-15,1.04) (-13,1.035) (-11,1.045) (-9,1.06) (-7,1.075) (-5,1.06) (-3,1.065) (-1,1.07) (1,1.075) (3,1.08) (5,1.06) (7,1.05) (9,1.04) (11,1.03) (13,1.02) (15,1.02) (17,1.005) (19,1.00) (21,0.99) (23,0.98) (25,0.99) (27,1.00) (29,1.01) (31,1.005) (33,1.00) (35,0.99) (37,1.02) (39,1.02) (41,1.00) (43,0.99) (45,0.985) (47,0.995) (49,0.99) (51,0.99) (53,0.995) (55,0.985) (57,0.99) (59,1.00) (61,0.99) (63,1.00) (65,0.99) (67,0.985) (69,0.98) (71,0.99) (73,0.995) (75,0.975) (77,0.985) (79,0.99) (81,0.98) (83,0.975) (85,1.00) (87,1.01) (89,1.025) (91,1.00) (93,0.96) (95,0.935) (97,0.99) (99,1.00) (101,1.00) (103,1.005) (105,0.995) (107,1.00) (109,1.01) (111,1.005) (113,0.99) (115,0.985) (117,0.98) (119,0.99) (121,1.00) (123,1.01) (125,1.02) (127,1.025) (129,1.01) (131,1.01) (133,1.015) (135,1.00) (137,0.99) (139,0.985) (141,1.00) (143,1.01) (145,1.015) (147,1.005) (150,0.985)};
\addplot[dsh] coordinates {(-52.5,1.212) (-52.5,0.748)};
\node[ann, anchor=base west] at (axis description cs:0.071,0.891) {(d)};
\node[ann, anchor=base east] at (axis description cs:0.954,0.898) {HeI 5875};
\end{axis}
\end{tikzpicture}
\end{document}
